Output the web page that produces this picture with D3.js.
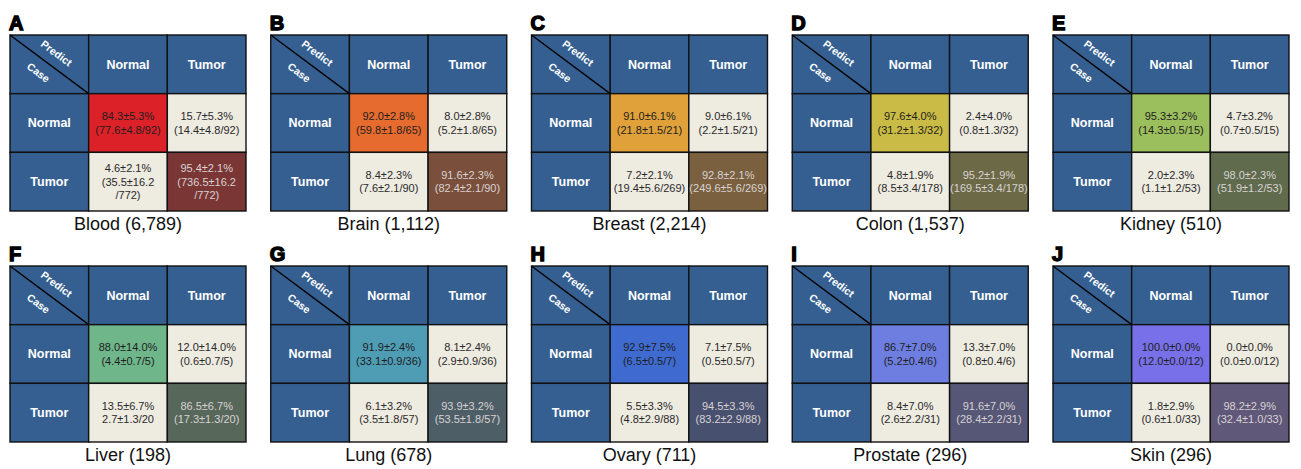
<!DOCTYPE html>
<html>
<head>
<meta charset="utf-8">
<script src="https://cdn.jsdelivr.net/npm/d3@7/dist/d3.min.js"></script>
<style>
  body { margin: 0; background: #fff; }
  svg { font-family: "Liberation Sans", Arial, sans-serif; }
</style>
</head>
<body>
<div id="chart"></div>
<script>
// panel letters and tissues
var letters = ["A", "B", "C", "D", "E", "F", "G", "H", "I", "J"];
var tissues = ["Blood", "Brain", "Breast", "Colon", "Kidney", "Liver", "Lung", "Ovary", "Prostate", "Skin"];
var sampleTotals = [6789, 1112, 2214, 1537, 510, 198, 678, 711, 296, 296];
var classes = ["Normal", "Tumor"];

// cells are ordered: case Normal->pred Normal, Normal->Tumor, Tumor->Normal, Tumor->Tumor
var pctMean = [
  [84.3, 15.7, 4.6, 95.4], [92.0, 8.0, 8.4, 91.6], [91.0, 9.0, 7.2, 92.8], [97.6, 2.4, 4.8, 95.2], [95.3, 4.7, 2.0, 98.0],
  [88.0, 12.0, 13.5, 86.5], [91.9, 8.1, 6.1, 93.9], [92.9, 7.1, 5.5, 94.5], [86.7, 13.3, 8.4, 91.6], [100.0, 0.0, 1.8, 98.2]
];
var pctSd = [
  [5.3, 5.3, 2.1, 2.1], [2.8, 2.8, 2.3, 2.3], [6.1, 6.1, 2.1, 2.1], [4.0, 4.0, 1.9, 1.9], [3.2, 3.2, 2.3, 2.3],
  [14.0, 14.0, 6.7, 6.7], [2.4, 2.4, 3.2, 3.2], [7.5, 7.5, 3.3, 3.3], [7.0, 7.0, 7.0, 7.0], [0.0, 0.0, 2.9, 2.9]
];
var cntMean = [
  [77.6, 14.4, 35.5, 736.5], [59.8, 5.2, 7.6, 82.4], [21.8, 2.2, 19.4, 249.6], [31.2, 0.8, 8.5, 169.5], [14.3, 0.7, 1.1, 51.9],
  [4.4, 0.6, 2.7, 17.3], [33.1, 2.9, 3.5, 53.5], [6.5, 0.5, 4.8, 83.2], [5.2, 0.8, 2.6, 28.4], [12.0, 0.0, 0.6, 32.4]
];
var cntSd = [
  [4.8, 4.8, 16.2, 16.2], [1.8, 1.8, 2.1, 2.1], [1.5, 1.5, 5.6, 5.6], [1.3, 1.3, 3.4, 3.4], [0.5, 0.5, 1.2, 1.2],
  [0.7, 0.7, 1.3, 1.3], [0.9, 0.9, 1.8, 1.8], [0.5, 0.5, 2.9, 2.9], [0.4, 0.4, 2.2, 2.2], [0.0, 0.0, 1.0, 1.0]
];
var classTotals = [[92, 772], [65, 90], [21, 269], [32, 178], [15, 53], [5, 20], [36, 57], [7, 88], [6, 31], [12, 33]];

// cells printed over three lines, and the one printed without brackets
var wrappedCells = ["0-2", "0-3"];
var bareCells = ["5-2"];

// colours for the correct predictions
var normalColors = ["#dc2228", "#e66b2e", "#e0a13b", "#c9bb45", "#9cbf5e", "#6fb68a", "#4f9cb5", "#3f6bd0", "#6d7ee0", "#7770e8"];
var tumorColors = ["#7a3535", "#7a4f3b", "#7a603f", "#6b6946", "#5f6b4c", "#57675a", "#4d5e67", "#48506f", "#565677", "#605879"];
var headerBlue = "#365f91";
var missColor = "#eeebe1";

var width = 1301, height = 469;
var panelW = 236, panelH = 176;

var svg = d3.select("#chart").append("svg")
  .attr("width", width)
  .attr("height", height);

var colX = d3.scaleLinear().domain([0, 4]).range([10, 1053]);
var rowY = d3.scaleLinear().domain([0, 1]).range([35, 266]);

var x = d3.scaleBand().domain(["corner"].concat(classes)).range([0, panelW]);
var y = d3.scaleBand().domain(["corner"].concat(classes)).range([0, panelH]);

var f1 = d3.format(".1f");
var fc = d3.format(",");

tissues.forEach(function(tissue, t) {
  var g = svg.append("g")
    .attr("transform", "translate(" + colX(t % 5) + "," + rowY(Math.floor(t / 5)) + ")");

  // panel letter
  g.append("text")
    .attr("x", -1)
    .attr("y", -5)
    .attr("font-size", 20)
    .attr("font-weight", "bold")
    .attr("stroke", "#000")
    .attr("stroke-width", 1.4)
    .attr("fill", "#000")
    .text(letters[t]);

  // headers (top row and left column)
  var headers = [{ c: "corner", r: "corner" }];
  classes.forEach(function(k) {
    headers.push({ c: k, r: "corner", label: k });
    headers.push({ c: "corner", r: k, label: k });
  });

  g.selectAll(".hdr")
    .data(headers)
    .enter()
    .append("rect")
    .attr("x", function(d) { return x(d.c); })
    .attr("y", function(d) { return y(d.r); })
    .attr("width", x.bandwidth())
    .attr("height", y.bandwidth())
    .attr("fill", headerBlue)
    .attr("stroke", "#111")
    .attr("stroke-width", 1.4);

  g.selectAll(".hdrText")
    .data(headers.filter(function(d) { return d.label; }))
    .enter()
    .append("text")
    .attr("x", function(d) { return x(d.c) + x.bandwidth() / 2; })
    .attr("y", function(d) { return y(d.r) + y.bandwidth() / 2; })
    .attr("dy", "0.35em")
    .attr("text-anchor", "middle")
    .attr("font-size", 12.5)
    .attr("font-weight", "bold")
    .attr("fill", "#fff")
    .text(function(d) { return d.label; });

  // diagonal in the corner cell
  var cw = x.bandwidth(), ch = y.bandwidth();
  var angle = Math.atan2(ch, cw) * 180 / Math.PI;
  g.append("line")
    .attr("x1", 0).attr("y1", 0)
    .attr("x2", cw).attr("y2", ch)
    .attr("stroke", "#000")
    .attr("stroke-width", 1.4);

  g.append("text")
    .attr("transform", "translate(" + (cw * 0.59) + "," + (ch * 0.31) + ") rotate(" + angle + ")")
    .attr("text-anchor", "middle")
    .attr("dy", "0.35em")
    .attr("font-size", 10.5)
    .attr("font-weight", "bold")
    .attr("fill", "#fff")
    .text("Predict");

  g.append("text")
    .attr("transform", "translate(" + (cw * 0.36) + "," + (ch * 0.64) + ") rotate(" + angle + ")")
    .attr("text-anchor", "middle")
    .attr("dy", "0.35em")
    .attr("font-size", 10.5)
    .attr("font-weight", "bold")
    .attr("fill", "#fff")
    .text("Case");

  // confusion cells
  var cells = pctMean[t].map(function(v, i) {
    var r = classes[Math.floor(i / 2)], c = classes[i % 2];
    var key = t + "-" + i;
    var total = classTotals[t][Math.floor(i / 2)];
    var countStr = f1(cntMean[t][i]) + "\u00b1" + f1(cntSd[t][i]);
    var lines;
    if (wrappedCells.indexOf(key) >= 0) {
      lines = [f1(v) + "\u00b1" + f1(pctSd[t][i]) + "%", "(" + countStr, "/" + total + ")"];
    } else if (bareCells.indexOf(key) >= 0) {
      lines = [f1(v) + "\u00b1" + f1(pctSd[t][i]) + "%", countStr + "/" + total];
    } else {
      lines = [f1(v) + "\u00b1" + f1(pctSd[t][i]) + "%", "(" + countStr + "/" + total + ")"];
    }
    var fill = missColor, ink = "#2a2a2a";
    if (i === 0) { fill = normalColors[t]; ink = "#1e1e1e"; }
    if (i === 3) { fill = tumorColors[t]; ink = "#d8d2d2"; }
    return { r: r, c: c, lines: lines, fill: fill, ink: ink };
  });

  g.selectAll(".cell")
    .data(cells)
    .enter()
    .append("rect")
    .attr("x", function(d) { return x(d.c); })
    .attr("y", function(d) { return y(d.r); })
    .attr("width", x.bandwidth())
    .attr("height", y.bandwidth())
    .attr("fill", function(d) { return d.fill; })
    .attr("stroke", "#111")
    .attr("stroke-width", 1.4);

  var lineH = 13.8;
  var txt = g.selectAll(".cellText")
    .data(cells)
    .enter()
    .append("text")
    .attr("text-anchor", "middle")
    .attr("font-size", 11)
    .attr("fill", function(d) { return d.ink; });

  txt.each(function(d) {
    var cx = x(d.c) + x.bandwidth() / 2;
    var cy = y(d.r) + y.bandwidth() / 2;
    var start = cy - (d.lines.length - 1) * lineH / 2;
    d3.select(this).selectAll("tspan")
      .data(d.lines)
      .enter()
      .append("tspan")
      .attr("x", cx)
      .attr("y", function(s, k) { return start + k * lineH; })
      .attr("dy", "0.35em")
      .text(function(s) { return s; });
  });

  // tissue title
  g.append("text")
    .attr("x", panelW / 2)
    .attr("y", panelH + 19)
    .attr("text-anchor", "middle")
    .attr("font-size", 18)
    .attr("fill", "#111")
    .text(tissue + " (" + fc(sampleTotals[t]) + ")");
});
</script>
</body>
</html>
